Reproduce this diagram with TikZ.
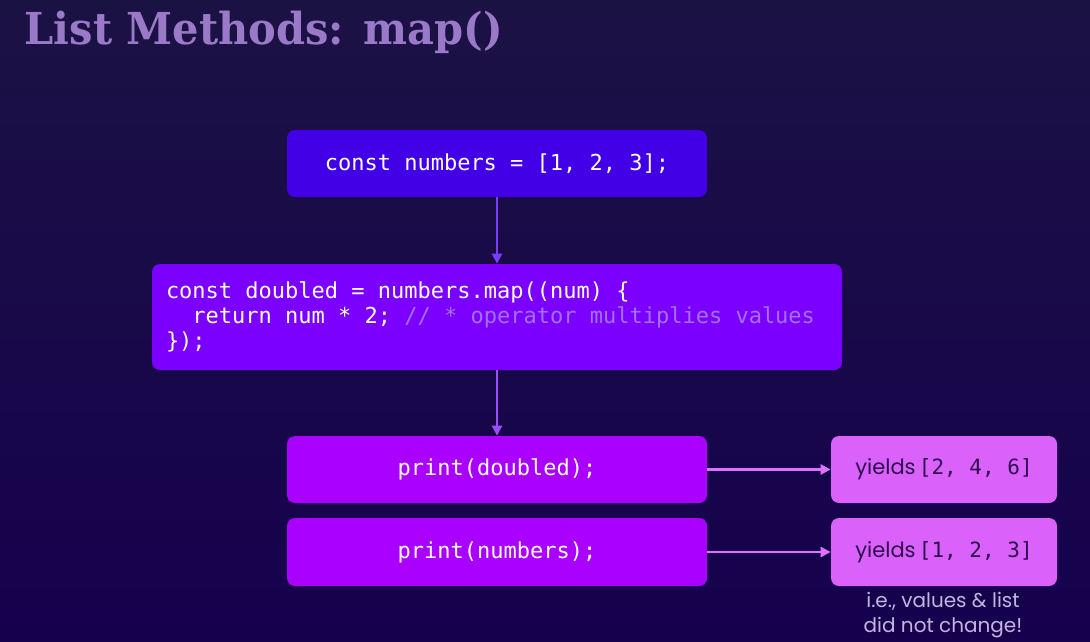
\documentclass[tikz,border=0pt]{standalone}
\usepackage{fontspec}
\setmainfont{DejaVu Serif}
\setmonofont{DejaVu Sans Mono}[WordSpace={1,0,0}]
\newfontfamily\notefont{Poppins}
\newfontfamily\titlefont{DejaVu Serif}[FakeStretch=0.945, BoldFeatures={FakeStretch=0.945}]
\usetikzlibrary{arrows.meta}

\definecolor{bgtop}{HTML}{1B1244}
\definecolor{bgmid}{HTML}{200066}
\definecolor{bgbot}{HTML}{16004E}
\definecolor{titlecol}{HTML}{9A7AC8}
\definecolor{declcol}{HTML}{4100E6}
\definecolor{mapcol}{HTML}{7B00FF}
\definecolor{printcol}{HTML}{AA00FF}
\definecolor{yieldcol}{HTML}{DA62FA}
\definecolor{commentcol}{HTML}{A271FF}
\definecolor{arrowone}{HTML}{7A3CFF}
\definecolor{arrowtwo}{HTML}{9B4DFF}
\definecolor{arrowthree}{HTML}{E070FF}
\definecolor{yieldtext}{HTML}{2C0C4E}
\definecolor{notecol}{HTML}{C4B4E0}

\tikzset{every picture/.style={line width=0.75pt},
  codebox/.style={rounded corners=8pt, inner sep=0pt, text=white, font=\fontsize{22}{25}\selectfont\ttfamily},
  yieldbox/.style={fill=yieldcol, rounded corners=8pt, inner sep=0pt, minimum width=226pt, minimum height=67pt, text=yieldtext},
  flow/.style={line width=2.5pt, -{Triangle[width=10pt,length=10pt]}}
}

\begin{document}
\begin{tikzpicture}[x=1pt,y=1pt,yscale=-1,xscale=1]
\useasboundingbox (0,0) rectangle (1090,642);
\clip (0,0) rectangle (1090,642);
%Background
\shade[top color=bgtop, middle color=bgmid, bottom color=bgbot] (0,0) rectangle (1090,642);
% Title
\node [anchor=base west, text=titlecol, font=\titlefont\fontsize{44}{48}\selectfont\bfseries] (title) at (21,45) {List Methods: map()};
%Shape: Rectangle Top
\node [codebox, fill=declcol, minimum width=420pt, minimum height=67pt] (nums) at (497,163.5) {const numbers = [1, 2, 3];};
%Shape: Rectangle Middle
\node [codebox, fill=mapcol, minimum width=690pt, minimum height=106pt, text width=662pt, align=flush left] (map) at (497,317) {const doubled = numbers.map((num) \{\\
\ \ return num * 2; {\color{commentcol}// * operator multiplies values}\\
\});};
%Shape: Rectangle Bottom left
\node [codebox, fill=printcol, minimum width=420pt, minimum height=67pt] (pdoubled) at (497,469.5) {print(doubled);};
\node [codebox, fill=printcol, minimum width=420pt, minimum height=68pt] (pnumbers) at (497,552) {print(numbers);};
%Shape: Rectangle Bottom right
\node [yieldbox] (ydoubled) at (944,469.5) {{\notefont\fontsize{21}{24}\selectfont yields} {\ttfamily\fontsize{21}{24}\selectfont [2, 4, 6]}};
\node [yieldbox, minimum height=68pt] (ynumbers) at (944,552) {{\notefont\fontsize{21}{24}\selectfont yields} {\ttfamily\fontsize{21}{24}\selectfont [1, 2, 3]}};
% Text Node
\node [align=center, text=notecol, font=\notefont\fontsize{20}{25}\selectfont] (note) at (943,615) {i.e., values \& list\\did not change!};
%Arrows
\draw [flow, arrowone] (nums) -- (map);
\draw [flow, arrowtwo] (map) -- (pdoubled);
\draw [flow, arrowthree] (pdoubled) -- (ydoubled);
\draw [flow, arrowthree] (pnumbers) -- (ynumbers);
\end{tikzpicture}
\end{document}
